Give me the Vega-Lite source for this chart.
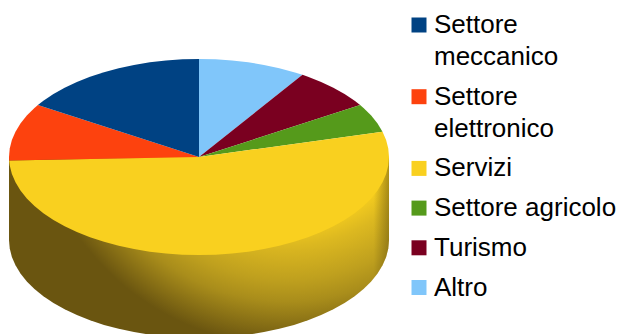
{
"$schema":"https://vega.github.io/schema/vega-lite/v6.json",
"width":619,"height":334,"padding":0,"autosize":{"type":"none"},
"background":"#ffffff",
"config":{"view":{"stroke":null}},
"datasets":{
"side":[
{"x":1,"y":0},{"x":1,"y":-0.847},{"x":0.9962,"y":-0.9342},{"x":0.9848,"y":-1.0206},{"x":0.9659,"y":-1.1058},{"x":0.9397,"y":-1.189},{"x":0.9063,"y":-1.2696},{"x":0.866,"y":-1.347},{"x":0.8192,"y":-1.4206},{"x":0.766,"y":-1.4898},{"x":0.7071,"y":-1.5541},{"x":0.6428,"y":-1.613},{"x":0.5736,"y":-1.6662},{"x":0.5,"y":-1.713},{"x":0.4226,"y":-1.7533},{"x":0.342,"y":-1.7867},{"x":0.2588,"y":-1.8129},{"x":0.1736,"y":-1.8318},{"x":0.0872,"y":-1.8432},{"x":0,"y":-1.847},
{"x":-0.0872,"y":-1.8432},{"x":-0.1736,"y":-1.8318},{"x":-0.2588,"y":-1.8129},{"x":-0.342,"y":-1.7867},{"x":-0.4226,"y":-1.7533},{"x":-0.5,"y":-1.713},{"x":-0.5736,"y":-1.6662},{"x":-0.6428,"y":-1.613},{"x":-0.7071,"y":-1.5541},{"x":-0.766,"y":-1.4898},{"x":-0.8192,"y":-1.4206},{"x":-0.866,"y":-1.347},{"x":-0.9063,"y":-1.2696},{"x":-0.9397,"y":-1.189},{"x":-0.9659,"y":-1.1058},{"x":-0.9848,"y":-1.0206},{"x":-0.9962,"y":-0.9342},{"x":-1,"y":-0.847},{"x":-1,"y":0}
],
"slices":[
{"s":"Altro","x":0,"y":0},{"s":"Altro","x":0,"y":1},{"s":"Altro","x":0.0872,"y":0.9962},{"s":"Altro","x":0.1736,"y":0.9848},{"s":"Altro","x":0.2588,"y":0.9659},{"s":"Altro","x":0.342,"y":0.9397},{"s":"Altro","x":0.4226,"y":0.9063},{"s":"Altro","x":0.5,"y":0.866},{"s":"Altro","x":0.5446,"y":0.8387},
{"s":"Turismo","x":0,"y":0},{"s":"Turismo","x":0.5446,"y":0.8387},{"s":"Turismo","x":0.5736,"y":0.8192},{"s":"Turismo","x":0.6428,"y":0.766},{"s":"Turismo","x":0.7071,"y":0.7071},{"s":"Turismo","x":0.766,"y":0.6428},{"s":"Turismo","x":0.8192,"y":0.5736},{"s":"Turismo","x":0.848,"y":0.5299},
{"s":"Settore agricolo","x":0,"y":0},{"s":"Settore agricolo","x":0.848,"y":0.5299},{"s":"Settore agricolo","x":0.866,"y":0.5},{"s":"Settore agricolo","x":0.9063,"y":0.4226},{"s":"Settore agricolo","x":0.9397,"y":0.342},{"s":"Settore agricolo","x":0.9659,"y":0.2588},
{"s":"Servizi","x":0,"y":0},{"s":"Servizi","x":0.9659,"y":0.2588},{"s":"Servizi","x":0.9848,"y":0.1736},{"s":"Servizi","x":0.9962,"y":0.0872},{"s":"Servizi","x":1,"y":0},{"s":"Servizi","x":0.9962,"y":-0.0872},{"s":"Servizi","x":0.9848,"y":-0.1736},{"s":"Servizi","x":0.9659,"y":-0.2588},{"s":"Servizi","x":0.9397,"y":-0.342},{"s":"Servizi","x":0.9063,"y":-0.4226},{"s":"Servizi","x":0.866,"y":-0.5},{"s":"Servizi","x":0.8192,"y":-0.5736},{"s":"Servizi","x":0.766,"y":-0.6428},{"s":"Servizi","x":0.7071,"y":-0.7071},{"s":"Servizi","x":0.6428,"y":-0.766},{"s":"Servizi","x":0.5736,"y":-0.8192},{"s":"Servizi","x":0.5,"y":-0.866},{"s":"Servizi","x":0.4226,"y":-0.9063},{"s":"Servizi","x":0.342,"y":-0.9397},{"s":"Servizi","x":0.2588,"y":-0.9659},{"s":"Servizi","x":0.1736,"y":-0.9848},{"s":"Servizi","x":0.0872,"y":-0.9962},{"s":"Servizi","x":0,"y":-1},{"s":"Servizi","x":-0.0872,"y":-0.9962},{"s":"Servizi","x":-0.1736,"y":-0.9848},{"s":"Servizi","x":-0.2588,"y":-0.9659},{"s":"Servizi","x":-0.342,"y":-0.9397},{"s":"Servizi","x":-0.4226,"y":-0.9063},{"s":"Servizi","x":-0.5,"y":-0.866},{"s":"Servizi","x":-0.5736,"y":-0.8192},{"s":"Servizi","x":-0.6428,"y":-0.766},{"s":"Servizi","x":-0.7071,"y":-0.7071},{"s":"Servizi","x":-0.766,"y":-0.6428},{"s":"Servizi","x":-0.8192,"y":-0.5736},{"s":"Servizi","x":-0.866,"y":-0.5},{"s":"Servizi","x":-0.9063,"y":-0.4226},{"s":"Servizi","x":-0.9397,"y":-0.342},{"s":"Servizi","x":-0.9659,"y":-0.2588},{"s":"Servizi","x":-0.9848,"y":-0.1736},{"s":"Servizi","x":-0.9962,"y":-0.0872},{"s":"Servizi","x":-0.9994,"y":-0.0349},
{"s":"Settore elettronico","x":0,"y":0},{"s":"Settore elettronico","x":-0.9994,"y":-0.0349},{"s":"Settore elettronico","x":-1,"y":0},{"s":"Settore elettronico","x":-0.9962,"y":0.0872},{"s":"Settore elettronico","x":-0.9848,"y":0.1736},{"s":"Settore elettronico","x":-0.9659,"y":0.2588},{"s":"Settore elettronico","x":-0.9397,"y":0.342},{"s":"Settore elettronico","x":-0.9063,"y":0.4226},{"s":"Settore elettronico","x":-0.866,"y":0.5},{"s":"Settore elettronico","x":-0.848,"y":0.5299},
{"s":"Settore meccanico","x":0,"y":0},{"s":"Settore meccanico","x":-0.848,"y":0.5299},{"s":"Settore meccanico","x":-0.8192,"y":0.5736},{"s":"Settore meccanico","x":-0.766,"y":0.6428},{"s":"Settore meccanico","x":-0.7071,"y":0.7071},{"s":"Settore meccanico","x":-0.6428,"y":0.766},{"s":"Settore meccanico","x":-0.5736,"y":0.8192},{"s":"Settore meccanico","x":-0.5,"y":0.866},{"s":"Settore meccanico","x":-0.4226,"y":0.9063},{"s":"Settore meccanico","x":-0.342,"y":0.9397},{"s":"Settore meccanico","x":-0.2588,"y":0.9659},{"s":"Settore meccanico","x":-0.1736,"y":0.9848},{"s":"Settore meccanico","x":-0.0872,"y":0.9962},{"s":"Settore meccanico","x":0,"y":1}
]},
"encoding":{
"x":{"field":"x","type":"quantitative","axis":null,"scale":{"domain":[-1.0474,2.2105],"nice":false,"zero":false}},
"y":{"field":"y","type":"quantitative","axis":null,"scale":{"domain":[-1.8061,1.602],"nice":false,"zero":false}},
"order":{"value":null}
},
"layer":[
{"data":{"name":"side"},
 "mark":{"type":"line","filled":true,"clip":true,"strokeWidth":0,
  "fill":{"gradient":"radial","x1":0.733,"y1":0.084,"r1":0,"x2":0.733,"y2":0.084,"r2":0.673,
   "stops":[{"offset":0,"color":"#f9d01f"},{"offset":0.51,"color":"#f9d01f"},{"offset":0.61,"color":"#dcb820"},{"offset":0.745,"color":"#bfa01e"},{"offset":0.83,"color":"#a98d1b"},{"offset":1,"color":"#6a5510"}]}}},
{"data":{"name":"side"},
 "mark":{"type":"line","filled":true,"clip":true,"strokeWidth":0,
  "fill":{"gradient":"linear","x1":0,"y1":0,"x2":1,"y2":0,
   "stops":[{"offset":0.96,"color":"rgba(110,90,15,0)"},{"offset":1,"color":"rgba(110,90,15,0.55)"}]}}},
{"data":{"name":"slices"},
 "mark":{"type":"line","filled":true,"strokeWidth":0},
 "encoding":{
  "fill":{"field":"s","type":"nominal",
   "scale":{"domain":["Settore meccanico","Settore elettronico","Servizi","Settore agricolo","Turismo","Altro"],
    "range":["#004283","#fd420e","#f9d01f","#559a1b","#7a0020","#80c6fa"]},
   "legend":{"title":null,"orient":"none","legendX":406,"legendY":12,"padding":0,"symbolType":"square","symbolSize":225,"symbolStrokeWidth":0,"symbolOpacity":1,
    "labelFont":"Liberation Sans","labelFontSize":26,"labelColor":"#000000","labelOffset":2,"labelLimit":300,"rowPadding":13.7,"gridAlign":"each",
    "labelExpr":"indexof(datum.label,'Settore m')==0||indexof(datum.label,'Settore e')==0?split(datum.label,' '):datum.label",
    "encoding":{"labels":{"lineHeight":{"value":32}}}}}
 }}
]}
